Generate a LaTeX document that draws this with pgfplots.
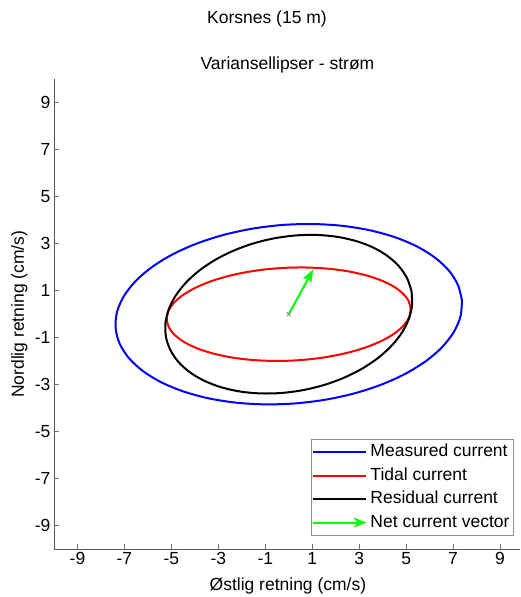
\documentclass[border=0pt]{standalone}
\usepackage{fontspec}
\setmainfont{Liberation Sans}
\usepackage{pgfplots}
\usepackage{pgfplotstable}
\pgfplotsset{compat=1.18}
\usetikzlibrary{arrows.meta}

\newcommand\ff{\fontsize{17.5bp}{21bp}\selectfont}

% Variance ellipses (cm/s), east / north components
\pgfplotstableread{
x y
7.377 0.581
7.213 1.231
6.830 1.845
6.238 2.402
5.459 2.886
4.513 3.282
3.430 3.580
2.242 3.768
0.987 3.841
-0.299 3.798
-1.575 3.639
-2.804 3.370
-3.948 2.998
-4.971 2.536
-5.843 1.996
-6.538 1.396
-7.034 0.753
-7.317 0.087
-7.377 -0.581
-7.213 -1.231
-6.830 -1.845
-6.238 -2.402
-5.459 -2.886
-4.513 -3.282
-3.430 -3.580
-2.242 -3.768
-0.987 -3.841
0.299 -3.798
1.575 -3.639
2.804 -3.370
3.948 -2.998
4.971 -2.536
5.843 -1.996
6.538 -1.396
7.034 -0.753
7.317 -0.087
7.377 0.581
}\measured

\pgfplotstableread{
x y
5.195 0.227
5.101 0.567
4.853 0.889
4.456 1.186
3.924 1.445
3.273 1.661
2.523 1.827
1.696 1.937
0.817 1.987
-0.086 1.978
-0.987 1.909
-1.858 1.781
-2.673 1.599
-3.405 1.369
-4.034 1.097
-4.542 0.792
-4.911 0.463
-5.131 0.119
-5.195 -0.227
-5.101 -0.567
-4.853 -0.889
-4.456 -1.186
-3.924 -1.445
-3.273 -1.661
-2.523 -1.827
-1.696 -1.937
-0.817 -1.987
0.086 -1.978
0.987 -1.909
1.858 -1.781
2.673 -1.599
3.405 -1.369
4.034 -1.097
4.542 -0.792
4.911 -0.463
5.131 -0.119
5.195 0.227
}\tidal

\pgfplotstableread{
x y
5.229 0.979
5.044 1.525
4.707 2.026
4.225 2.465
3.616 2.829
2.898 3.106
2.091 3.291
1.219 3.374
0.312 3.355
-0.605 3.234
-1.504 3.015
-2.357 2.704
-3.139 2.311
-3.824 1.848
-4.394 1.329
-4.831 0.769
-5.121 0.186
-5.254 -0.403
-5.229 -0.979
-5.044 -1.525
-4.707 -2.026
-4.225 -2.465
-3.616 -2.829
-2.898 -3.106
-2.091 -3.291
-1.219 -3.374
-0.312 -3.355
0.605 -3.234
1.504 -3.015
2.357 -2.704
3.139 -2.311
3.824 -1.848
4.394 -1.329
4.831 -0.769
5.121 -0.186
5.254 0.403
5.229 0.979
}\residual

\begin{document}
\begin{tikzpicture}[font=\ff]
\useasboundingbox (0,0) rectangle (521bp,597bp);
\node[anchor=base] at (267bp,573bp) {Korsnes (15 m)};
\begin{axis}[
  at={(54bp,48bp)}, anchor=south west,
  scale only axis, width=466bp, height=469.6bp,
  xmin=-10, xmax=9.85, ymin=-10, ymax=10,
  axis lines*=left,
  axis line style={black!65, line width=0.9bp},
  tick align=inside,
  major tick length=5bp,
  tick style={black!55, line width=0.8bp},
  xtick={-9,-7,-5,-3,-1,1,3,5,7,9},
  ytick={-9,-7,-5,-3,-1,1,3,5,7,9},
  xticklabels={-9,-7,-5,-3,-1,1,3,5,7,9},
  yticklabels={-9,-7,-5,-3,-1,1,3,5,7,9},
  ticklabel style={font=\ff},
  title={Variansellipser - strøm},
  title style={at={(axis description cs:0.501,1)}, anchor=base, yshift=4bp, font=\ff},
  xlabel={Østlig retning (cm/s)},
  xlabel style={at={(axis description cs:0.502,-0.0894)}, anchor=base, font=\ff},
  ylabel={Nordlig retning (cm/s)},
  ylabel style={at={(axis description cs:-0.0644,0.5)}, anchor=base, rotate=0, font=\ff},
  legend style={at={(axis description cs:0.987,0.0277)}, anchor=south east,
    draw=black!45, line width=0.8bp, fill=white, font=\ff,
    inner xsep=1bp, inner ysep=1.5bp, row sep=0.5bp,
    nodes={inner sep=3bp, text height=13bp, text depth=4bp},
    cells={anchor=west},
    /tikz/every even column/.append style={column sep=4bp}},
  legend image code/.code={\path[arrows=-] (0bp,0bp) -- (9bp,0bp);\draw[#1] (9bp,0bp) -- (53bp,0bp);},
]
\addplot[blue, line width=2bp, smooth] table[x=x,y=y] {\measured};
\addlegendentry{Measured current}
\addplot[red, line width=2bp, smooth] table[x=x,y=y] {\tidal};
\addlegendentry{Tidal current}
\addplot[black, line width=2bp, smooth] table[x=x,y=y] {\residual};
\addlegendentry{Residual current}
\addplot[black!45, only marks, mark=x, mark size=3bp, mark options={line width=0.8bp}, forget plot] coordinates {(0,0)};
\addplot[green, line width=2bp, -{Stealth[length=13bp,width=9bp,inset=2bp]},
  legend image code/.code={\path[arrows=-] (0bp,0bp) -- (9bp,0bp);\draw[green, line width=2bp, -{Stealth[length=13bp,width=10bp]}] (9bp,0bp) -- (53bp,0bp);}]
  coordinates {(0,0) (1.05,1.92)};
\addlegendentry{Net current vector}
\end{axis}
\end{tikzpicture}
\end{document}
